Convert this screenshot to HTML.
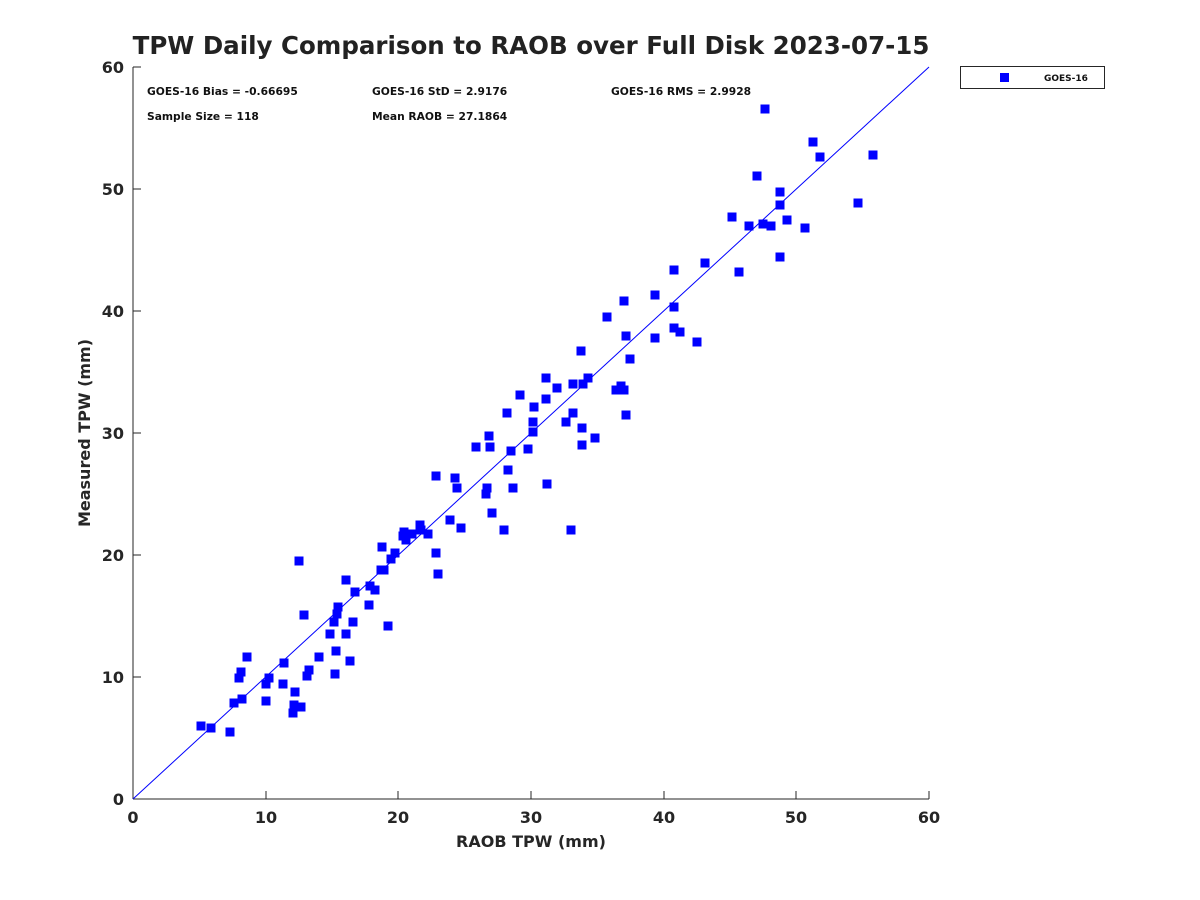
<!DOCTYPE html>
<html><head><meta charset="utf-8"><style>body{margin:0;background:#fff}svg{display:block}</style></head><body>
<svg width="1200" height="900" xmlns="http://www.w3.org/2000/svg" font-family="DejaVu Sans, Liberation Sans, sans-serif">
<rect width="1200" height="900" fill="#fff"/>
<text x="531" y="54" text-anchor="middle" font-size="24.5" font-weight="bold" fill="#222">TPW Daily Comparison to RAOB over Full Disk 2023-07-15</text>
<g stroke="#262626" stroke-width="1" fill="none">
<line x1="133" y1="799" x2="929" y2="799"/>
<line x1="133" y1="67" x2="133" y2="799"/>
</g>
<g stroke="#262626">
<line x1="133" y1="799" x2="133" y2="791"/><line x1="266" y1="799" x2="266" y2="791"/><line x1="398" y1="799" x2="398" y2="791"/><line x1="531" y1="799" x2="531" y2="791"/><line x1="664" y1="799" x2="664" y2="791"/><line x1="796" y1="799" x2="796" y2="791"/><line x1="929" y1="799" x2="929" y2="791"/>
<line x1="133" y1="677" x2="141" y2="677"/><line x1="133" y1="555" x2="141" y2="555"/><line x1="133" y1="433" x2="141" y2="433"/><line x1="133" y1="311" x2="141" y2="311"/><line x1="133" y1="189" x2="141" y2="189"/><line x1="133" y1="67" x2="141" y2="67"/>
</g>
<g font-size="16" font-weight="bold" fill="#262626" text-anchor="middle">
<text x="133" y="823">0</text><text x="266" y="823">10</text><text x="398" y="823">20</text><text x="531" y="823">30</text><text x="664" y="823">40</text><text x="796" y="823">50</text><text x="929" y="823">60</text>
</g>
<g font-size="16" font-weight="bold" fill="#262626" text-anchor="end">
<text x="124" y="805">0</text><text x="124" y="683">10</text><text x="124" y="561">20</text><text x="124" y="439">30</text><text x="124" y="317">40</text><text x="124" y="195">50</text><text x="124" y="73">60</text>
</g>
<text x="531" y="847" text-anchor="middle" font-size="16" font-weight="bold" fill="#262626">RAOB TPW (mm)</text>
<text transform="translate(90,433) rotate(-90)" text-anchor="middle" font-size="16" font-weight="bold" fill="#262626">Measured TPW (mm)</text>
<g font-size="10.7" font-weight="bold" fill="#111">
<text x="147" y="95">GOES-16 Bias = -0.66695</text><text x="372" y="95">GOES-16 StD = 2.9176</text><text x="611" y="95">GOES-16 RMS = 2.9928</text>
<text x="147" y="120">Sample Size = 118</text><text x="372" y="120">Mean RAOB = 27.1864</text>
</g>
<line x1="133" y1="799" x2="929" y2="67" stroke="#0000ff" stroke-width="1"/>
<g fill="#0000ff">
<rect x="196.5" y="721.5" width="9" height="9"/><rect x="206.5" y="723.5" width="9" height="9"/><rect x="225.5" y="727.5" width="9" height="9"/><rect x="229.5" y="698.5" width="9" height="9"/><rect x="234.5" y="673.5" width="9" height="9"/><rect x="236.5" y="667.5" width="9" height="9"/><rect x="237.5" y="694.5" width="9" height="9"/><rect x="242.5" y="652.5" width="9" height="9"/><rect x="261.5" y="679.5" width="9" height="9"/><rect x="261.5" y="696.5" width="9" height="9"/><rect x="264.5" y="673.5" width="9" height="9"/><rect x="278.5" y="679.5" width="9" height="9"/><rect x="279.5" y="658.5" width="9" height="9"/><rect x="288.5" y="708.5" width="9" height="9"/><rect x="289.5" y="700.5" width="9" height="9"/><rect x="290.5" y="687.5" width="9" height="9"/><rect x="296.5" y="702.5" width="9" height="9"/><rect x="294.5" y="556.5" width="9" height="9"/><rect x="299.5" y="610.5" width="9" height="9"/><rect x="302.5" y="671.5" width="9" height="9"/><rect x="304.5" y="665.5" width="9" height="9"/><rect x="314.5" y="652.5" width="9" height="9"/><rect x="325.5" y="629.5" width="9" height="9"/><rect x="329.5" y="617.5" width="9" height="9"/><rect x="330.5" y="669.5" width="9" height="9"/><rect x="331.5" y="646.5" width="9" height="9"/><rect x="332.5" y="609.5" width="9" height="9"/><rect x="333.5" y="602.5" width="9" height="9"/><rect x="341.5" y="575.5" width="9" height="9"/><rect x="341.5" y="629.5" width="9" height="9"/><rect x="345.5" y="656.5" width="9" height="9"/><rect x="348.5" y="617.5" width="9" height="9"/><rect x="350.5" y="587.5" width="9" height="9"/><rect x="364.5" y="600.5" width="9" height="9"/><rect x="365.5" y="581.5" width="9" height="9"/><rect x="370.5" y="585.5" width="9" height="9"/><rect x="376.5" y="565.5" width="9" height="9"/><rect x="377.5" y="542.5" width="9" height="9"/><rect x="379.5" y="565.5" width="9" height="9"/><rect x="383.5" y="621.5" width="9" height="9"/><rect x="386.5" y="554.5" width="9" height="9"/><rect x="390.5" y="548.5" width="9" height="9"/><rect x="398.5" y="531.5" width="9" height="9"/><rect x="399.5" y="527.5" width="9" height="9"/><rect x="401.5" y="535.5" width="9" height="9"/><rect x="407.5" y="529.5" width="9" height="9"/><rect x="415.5" y="520.5" width="9" height="9"/><rect x="416.5" y="525.5" width="9" height="9"/><rect x="423.5" y="529.5" width="9" height="9"/><rect x="431.5" y="471.5" width="9" height="9"/><rect x="431.5" y="548.5" width="9" height="9"/><rect x="433.5" y="569.5" width="9" height="9"/><rect x="445.5" y="515.5" width="9" height="9"/><rect x="450.5" y="473.5" width="9" height="9"/><rect x="452.5" y="483.5" width="9" height="9"/><rect x="456.5" y="523.5" width="9" height="9"/><rect x="471.5" y="442.5" width="9" height="9"/><rect x="481.5" y="489.5" width="9" height="9"/><rect x="482.5" y="483.5" width="9" height="9"/><rect x="484.5" y="431.5" width="9" height="9"/><rect x="485.5" y="442.5" width="9" height="9"/><rect x="487.5" y="508.5" width="9" height="9"/><rect x="499.5" y="525.5" width="9" height="9"/><rect x="502.5" y="408.5" width="9" height="9"/><rect x="503.5" y="465.5" width="9" height="9"/><rect x="506.5" y="446.5" width="9" height="9"/><rect x="508.5" y="483.5" width="9" height="9"/><rect x="515.5" y="390.5" width="9" height="9"/><rect x="523.5" y="444.5" width="9" height="9"/><rect x="528.5" y="417.5" width="9" height="9"/><rect x="529.5" y="402.5" width="9" height="9"/><rect x="528.5" y="427.5" width="9" height="9"/><rect x="541.5" y="394.5" width="9" height="9"/><rect x="542.5" y="479.5" width="9" height="9"/><rect x="541.5" y="373.5" width="9" height="9"/><rect x="552.5" y="383.5" width="9" height="9"/><rect x="561.5" y="417.5" width="9" height="9"/><rect x="566.5" y="525.5" width="9" height="9"/><rect x="568.5" y="379.5" width="9" height="9"/><rect x="568.5" y="408.5" width="9" height="9"/><rect x="576.5" y="346.5" width="9" height="9"/><rect x="577.5" y="423.5" width="9" height="9"/><rect x="577.5" y="440.5" width="9" height="9"/><rect x="578.5" y="379.5" width="9" height="9"/><rect x="583.5" y="373.5" width="9" height="9"/><rect x="590.5" y="433.5" width="9" height="9"/><rect x="602.5" y="312.5" width="9" height="9"/><rect x="611.5" y="385.5" width="9" height="9"/><rect x="616.5" y="381.5" width="9" height="9"/><rect x="619.5" y="296.5" width="9" height="9"/><rect x="619.5" y="385.5" width="9" height="9"/><rect x="621.5" y="331.5" width="9" height="9"/><rect x="621.5" y="410.5" width="9" height="9"/><rect x="625.5" y="354.5" width="9" height="9"/><rect x="650.5" y="290.5" width="9" height="9"/><rect x="650.5" y="333.5" width="9" height="9"/><rect x="669.5" y="265.5" width="9" height="9"/><rect x="669.5" y="302.5" width="9" height="9"/><rect x="669.5" y="323.5" width="9" height="9"/><rect x="675.5" y="327.5" width="9" height="9"/><rect x="692.5" y="337.5" width="9" height="9"/><rect x="700.5" y="258.5" width="9" height="9"/><rect x="727.5" y="212.5" width="9" height="9"/><rect x="734.5" y="267.5" width="9" height="9"/><rect x="744.5" y="221.5" width="9" height="9"/><rect x="752.5" y="171.5" width="9" height="9"/><rect x="758.5" y="219.5" width="9" height="9"/><rect x="760.5" y="104.5" width="9" height="9"/><rect x="766.5" y="221.5" width="9" height="9"/><rect x="775.5" y="187.5" width="9" height="9"/><rect x="775.5" y="200.5" width="9" height="9"/><rect x="775.5" y="252.5" width="9" height="9"/><rect x="782.5" y="215.5" width="9" height="9"/><rect x="800.5" y="223.5" width="9" height="9"/><rect x="808.5" y="137.5" width="9" height="9"/><rect x="815.5" y="152.5" width="9" height="9"/><rect x="853.5" y="198.5" width="9" height="9"/><rect x="868.5" y="150.5" width="9" height="9"/>
</g>
<rect x="960.5" y="66.5" width="144" height="22" fill="#fff" stroke="#262626"/>
<rect x="1000" y="73" width="9" height="9" fill="#0000ff"/>
<text x="1044" y="81" font-size="9" font-weight="bold" fill="#111">GOES-16</text>
</svg>
</body></html>
